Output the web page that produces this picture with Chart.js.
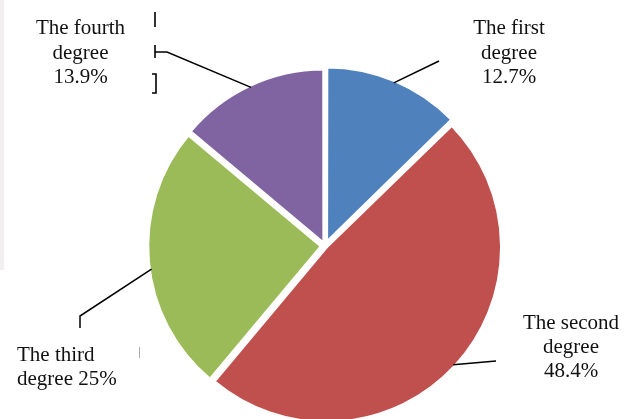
<!DOCTYPE html>
<html><head><meta charset="utf-8">
<script src="https://cdn.jsdelivr.net/npm/chart.js@4/dist/chart.umd.min.js"></script>
<style>html,body{margin:0;padding:0;background:#fff;overflow:hidden}</style>
</head><body>
<canvas id="c" width="632" height="419"></canvas>
<script>
// ---- data ----
const categories = ['The first degree', 'The second degree', 'The third degree', 'The fourth degree'];
const values = [12.7, 48.4, 25, 13.9];
const colors = ['#4F81BD', '#C0504D', '#9BBB59', '#8064A2'];

// label text built from the data
function labelLinesFor(i) {
  const w = categories[i].split(' ');
  const head = w.slice(0, 2).join(' ');
  const tail = w.slice(2).join(' ');
  const pct = values[i] + '%';
  if (i === 2) return [head, tail + ' ' + pct];
  return [head, tail, pct];
}

// ---- label layout (positions only) ----
const labelLayout = [
  {align: 'center', x: 509, y: [34, 58.5, 83], leader: [[439, 61]], angleShift: 0},
  {align: 'center', x: 571, y: [329, 353, 377], leader: [[496, 361]], angleShift: 0},
  {align: 'left', x: 17, y: [361, 384.5], leader: [[80, 316], [80, 328]], angleShift: -0.045},
  {align: 'center', x: 80.5, y: [34, 58.5, 83], leader: [[167, 52], [155, 52]], angleShift: 0}
];

const labelPlugin = {
  id: 'outLabels',
  beforeDraw(chart) {
    const ctx = chart.ctx;
    ctx.save();
    ctx.fillStyle = '#f1efef';
    ctx.fillRect(0, 0, 4, 270);
    ctx.restore();
  },
  afterDatasetsDraw(chart) {
    const ctx = chart.ctx;
    const meta = chart.getDatasetMeta(0);
    const ds = chart.data.datasets[0];
    ctx.save();
    ctx.strokeStyle = '#000';
    ctx.lineWidth = 1.5;
    meta.data.forEach((arc, i) => {
      const p = arc.getProps(['x', 'y', 'startAngle', 'endAngle', 'outerRadius', 'circumference'], true);
      const L = labelLayout[i];
      const mid = (p.startAngle + p.endAngle) / 2;
      const off = Array.isArray(ds.offset) ? ds.offset[i] : (ds.offset || 0);
      const fix = 1 - Math.sin(Math.min(Math.PI, p.circumference || 0));
      const shift = off / 4 * (1 + fix);
      const cx = p.x + Math.cos(mid) * shift;
      const cy = p.y + Math.sin(mid) * shift;
      const a = mid + L.angleShift;
      const r = p.outerRadius - 2;
      const sx = cx + Math.cos(a) * r;
      const sy = cy + Math.sin(a) * r;
      ctx.beginPath();
      ctx.moveTo(sx, sy);
      L.leader.forEach(pt => ctx.lineTo(pt[0], pt[1]));
      ctx.stroke();
      ctx.fillStyle = '#111';
      ctx.font = '21px "Liberation Serif", "Times New Roman", serif';
      ctx.textAlign = L.align;
      ctx.textBaseline = 'alphabetic';
      labelLinesFor(i).forEach((t, k) => ctx.fillText(t, L.x, L.y[k]));
    });
    // small bracket marks next to the fourth label
    ctx.lineWidth = 1.6;
    ctx.beginPath();
    ctx.moveTo(155, 12); ctx.lineTo(155, 27);
    ctx.moveTo(155, 45); ctx.lineTo(155, 58);
    ctx.moveTo(152, 74); ctx.lineTo(156, 74); ctx.lineTo(156, 93); ctx.lineTo(152, 93);
    ctx.stroke();
    ctx.strokeStyle = '#aaa';
    ctx.lineWidth = 1;
    ctx.beginPath();
    ctx.moveTo(139.5, 347); ctx.lineTo(139.5, 358);
    ctx.stroke();
    ctx.restore();
  }
};

new Chart(document.getElementById('c'), {
  type: 'pie',
  data: {
    labels: categories,
    datasets: [{
      data: values,
      backgroundColor: colors,
      borderColor: '#ffffff',
      borderWidth: 2.5,
      offset: [19, 8, 16, 13],
      radius: 173,
      clip: false
    }]
  },
  options: {
    responsive: false,
    animation: false,
    layout: {padding: {left: 150, right: 132, top: 73, bottom: 0}},
    plugins: {legend: {display: false}, tooltip: {enabled: false}}
  },
  plugins: [labelPlugin]
});
</script>
</body></html>
